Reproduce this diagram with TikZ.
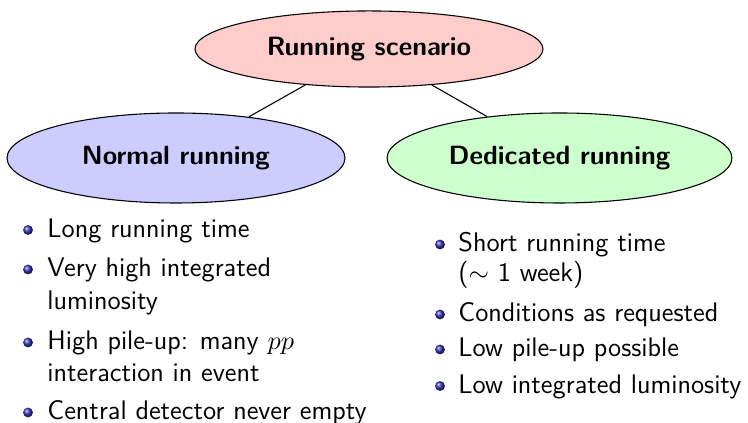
\documentclass[tikz,border=0pt]{standalone}
\usetikzlibrary{shapes.geometric}
\definecolor{bulletblue}{rgb}{0.2,0.2,0.7}
\begin{document}
\begin{tikzpicture}[x=0.41667pt,y=-0.41667pt,
  topic/.style={ellipse,draw=black,line width=0.45pt,inner sep=0pt,
    font=\sffamily\bfseries\fontsize{11}{13.75}\selectfont},
  itemtext/.style={anchor=base west,inner sep=0pt,
    font=\sffamily\fontsize{11.2}{13.75}\selectfont},
  ballet/.style={circle,inner sep=0pt,minimum size=4.1pt,shade,ball color=bulletblue}]
\useasboundingbox (0,0) rectangle (748,423);

\node[topic,fill=red!20,minimum width=145pt,minimum height=31.7pt] (top) at (369,49) {Running scenario};
\node[topic,fill=blue!20,minimum width=140.8pt,minimum height=37.5pt] (normal) at (176,158) {Normal running};
\node[topic,fill=green!20,minimum width=143.7pt,minimum height=37.5pt] (dedicated) at (559.5,158) {Dedicated running};
\draw[line width=0.45pt] (top) -- (normal);
\draw[line width=0.45pt] (top) -- (dedicated);

% left list
\node[ballet] (lb1) at (28,230) {};
\node[itemtext] (lt1) at (47,237.5) {Long running time};
\node[ballet] (lb2) at (28,269.5) {};
\node[itemtext] (lt2) at (47,277) {Very high integrated};
\node[itemtext] (lt2b) at (47,310) {luminosity};
\node[ballet] (lb3) at (28,342.5) {};
\node[itemtext] (lt3) at (47,350) {High pile-up: many $pp$};
\node[itemtext] (lt3b) at (47,382) {interaction in event};
\node[ballet] (lb4) at (28,412.5) {};
\node[itemtext] (lt4) at (47,420) {Central detector never empty};

% right list
\node[ballet] (rb1) at (440,244.5) {};
\node[itemtext] (rt1) at (458,252) {Short running time};
\node[itemtext] (rt1b) at (458,282) {($\sim$ 1 week)};
\node[ballet] (rb2) at (440,314.5) {};
\node[itemtext] (rt2) at (458,322) {Conditions as requested};
\node[ballet] (rb3) at (440,349.5) {};
\node[itemtext] (rt3) at (458,357) {Low pile-up possible};
\node[ballet] (rb4) at (440,386) {};
\node[itemtext] (rt4) at (458,393.5) {Low integrated luminosity};
\end{tikzpicture}
\end{document}
